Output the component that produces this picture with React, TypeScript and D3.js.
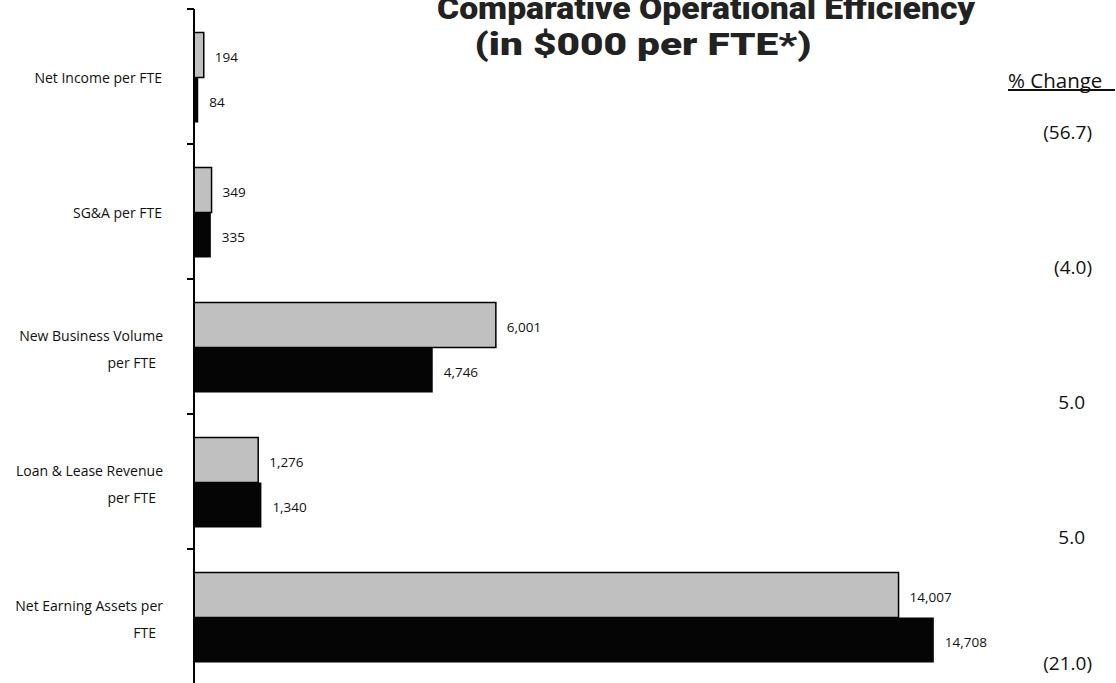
import React from "react";
import * as d3 from "d3";

const categories: string[][] = [
  ["Net Income per FTE"],
  ["SG&A per FTE"],
  ["New Business Volume", "per FTE"],
  ["Loan & Lease Revenue", "per FTE"],
  ["Net Earning Assets per", "FTE"],
];
const priorValues: number[] = [194, 349, 6001, 1276, 14007];
const currentValues: number[] = [84, 335, 4746, 1340, 14708];
const pctChange: number[] = [-56.7, -4.0, 5.0, 5.0, -21.0];
const seriesKeys = ["prior", "current"];
const titleLines = ["Comparative Operational Efficiency", "(in $000 per FTE*)"];

const W = 1116;
const H = 683;
const AXIS_X = 194;
const FONT = "'Open Sans', 'DejaVu Sans', sans-serif";

export default function App() {
  const keys = categories.map((c) => c.join(" "));
  const y = d3.scaleBand<string>().domain(keys).range([9, 684]).padding(0);
  const x = d3.scaleLinear().domain([0, 15000]).range([AXIS_X, AXIS_X + 754.5]);
  const inner = d3.scaleBand<string>().domain(seriesKeys).range([0, 90]).padding(0);
  const fmt = d3.format(",");
  const colors: Record<string, string> = { prior: "#c0c0c0", current: "#050505" };
  const bandOffset = 23.5;

  const fmtPct = (v: number) =>
    v < 0 ? `(${d3.format(".1f")(Math.abs(v))})` : d3.format(".1f")(v);

  return (
    <svg
      width={W}
      height={H}
      style={{ position: "absolute", left: 0, top: 0, background: "#fff" }}
    >
      {/* title */}
      <text
        x={706}
        y={19}
        textAnchor="middle"
        fontFamily="Roboto, 'Liberation Sans', Arial, sans-serif"
        fontWeight={900}
        fontSize={31}
        fill="#222"
        textLength={538}
        lengthAdjust="spacingAndGlyphs"
      >
        {titleLines[0]}
      </text>
      <text
        x={643}
        y={55}
        textAnchor="middle"
        fontFamily="Roboto, 'Liberation Sans', Arial, sans-serif"
        fontWeight={900}
        fontSize={31}
        fill="#222"
        textLength={337}
        lengthAdjust="spacingAndGlyphs"
      >
        {titleLines[1]}
      </text>

      {/* % change header */}
      <text x={1008} y={88} fontFamily={FONT} fontSize={20.5} fill="#111">
        % Change
      </text>
      <line x1={1008} x2={1115} y1={90} y2={90} stroke="#111" strokeWidth={2} />

      {/* bars */}
      {keys.map((k, i) => {
        const top = (y(k) as number) + bandOffset;
        const vals: Record<string, number> = {
          prior: priorValues[i],
          current: currentValues[i],
        };
        return (
          <g key={k}>
            {seriesKeys.map((s) => {
              const by = top + (inner(s) as number);
              const bh = inner.bandwidth();
              const xe = x(vals[s]);
              return (
                <g key={s}>
                  <rect
                    x={x(0)}
                    y={by}
                    width={xe - x(0)}
                    height={bh}
                    fill={colors[s]}
                    stroke={s === "prior" ? "#000" : "none"}
                    strokeWidth={s === "prior" ? 1.5 : 0}
                  />
                  <text
                    x={xe + 11}
                    y={by + bh / 2 + 2}
                    dominantBaseline="central"
                    fontFamily={FONT}
                    fontSize={13.5}
                    fill="#111"
                  >
                    {fmt(vals[s])}
                  </text>
                </g>
              );
            })}
            {/* category label */}
            {categories[i].length === 1 ? (
              <text
                x={162}
                y={top + 45 + 5}
                textAnchor="end"
                fontFamily={FONT}
                fontSize={14}
                fill="#111"
              >
                {categories[i][0]}
              </text>
            ) : (
              <g>
                <text
                  x={163}
                  y={top + 45 - 7}
                  textAnchor="end"
                  fontFamily={FONT}
                  fontSize={14}
                  fill="#111"
                >
                  {categories[i][0]}
                </text>
                <text
                  x={156}
                  y={top + 45 + 20}
                  textAnchor="end"
                  fontFamily={FONT}
                  fontSize={14}
                  fill="#111"
                >
                  {categories[i][1]}
                </text>
              </g>
            )}
            {/* % change value */}
            <text
              x={pctChange[i] < 0 ? 1092 : 1085}
              y={Math.min((y(k) as number) + 123, H - 20)}
              textAnchor="end"
              dominantBaseline="central"
              fontFamily={FONT}
              fontSize={19}
              fill="#111"
            >
              {fmtPct(pctChange[i])}
            </text>
          </g>
        );
      })}

      {/* axis */}
      <line x1={AXIS_X} x2={AXIS_X} y1={9} y2={H} stroke="#000" strokeWidth={2} />
      {keys.map((k) => (
        <line
          key={"t" + k}
          x1={AXIS_X - 7}
          x2={AXIS_X}
          y1={y(k) as number}
          y2={y(k) as number}
          stroke="#000"
          strokeWidth={2}
        />
      ))}
    </svg>
  );
}
